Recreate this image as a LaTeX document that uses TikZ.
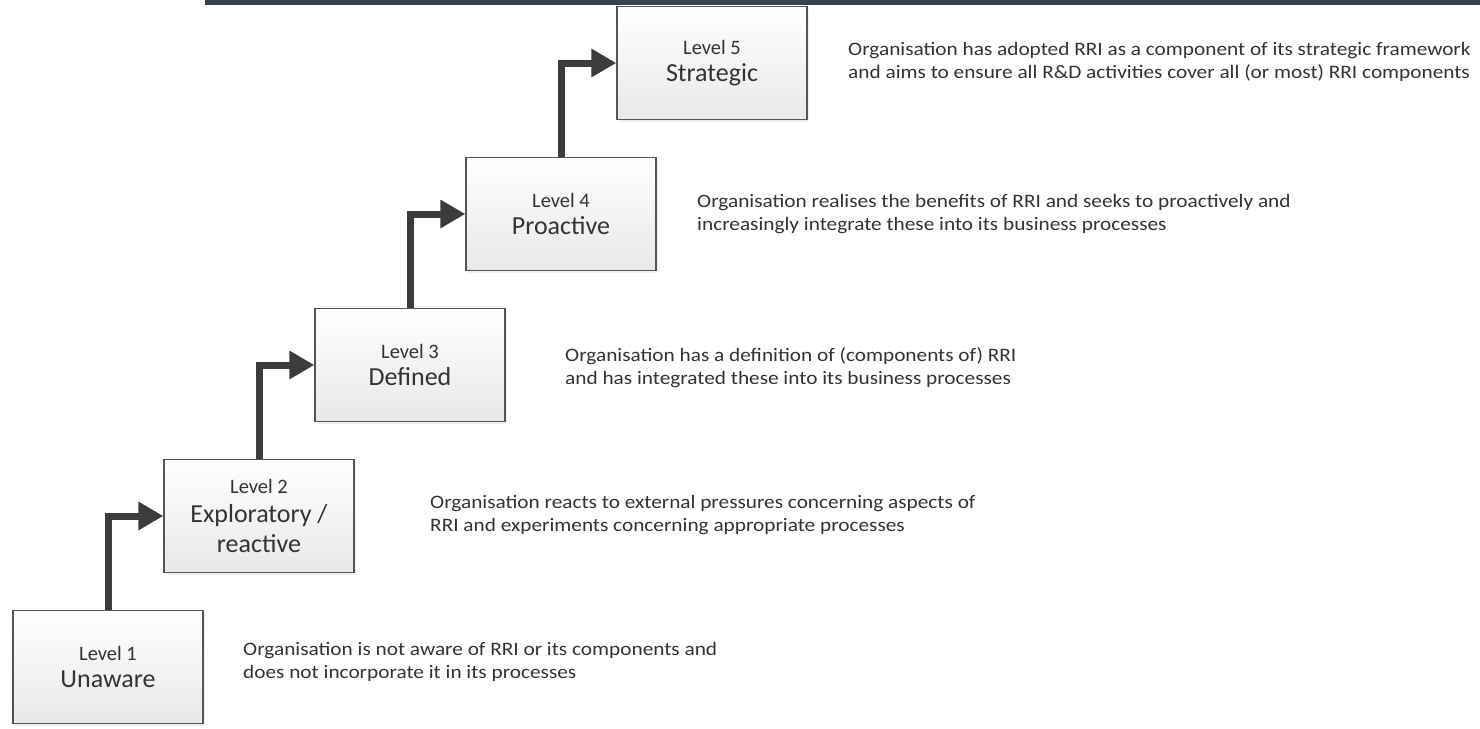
\documentclass[tikz,border=0pt]{standalone}
\usepackage{fontspec}
\setmainfont{Carlito}
\newfontfamily\descfont[FakeStretch=1.12]{Carlito}
\usetikzlibrary{arrows.meta,shadows}
\definecolor{barcol}{HTML}{34444F}
\definecolor{txt}{HTML}{333333}
\definecolor{boxline}{HTML}{555555}
\definecolor{arrcol}{HTML}{3C3C3C}
\tikzset{
  levelbox/.style={draw=boxline, line width=1.3pt, top color=white, bottom color=black!9,
    minimum width=190pt, minimum height=113pt, inner sep=0pt, align=center, text=txt,
    font=\fontsize{26}{30}\selectfont,
    drop shadow={opacity=0.12, shadow xshift=2pt, shadow yshift=-2pt}},
  desc/.style={anchor=west, align=left, text=txt, inner sep=0pt, font=\descfont\fontsize{19}{23}\selectfont},
  conn/.style={draw=arrcol, line width=7pt, -{Triangle[length=25pt,width=27pt]}},
}
\newcommand{\lvl}[1]{{\fontsize{20.5}{24}\selectfont #1}}
\begin{document}
\begin{tikzpicture}[x=1pt,y=-1pt]
\useasboundingbox (0,0) rectangle (1480,728);
\fill[barcol] (205,0) rectangle (1480,5);
\node[levelbox] (b1) at (108,667) {\lvl{Level 1}\\[-3pt]Unaware};
\node[levelbox] (b2) at (259,516) {\lvl{Level 2}\\[-1pt]Exploratory /\\reactive};
\node[levelbox] (b3) at (410,365) {\lvl{Level 3}\\[-3pt]Defined};
\node[levelbox] (b4) at (561,214) {\lvl{Level 4}\\[-3pt]Proactive};
\node[levelbox] (b5) at (712,63) {\lvl{Level 5}\\[-3pt]Strategic};
\draw[conn] (b1.north) |- (b2.west);
\draw[conn] (b2.north) |- (b3.west);
\draw[conn] (b3.north) |- (b4.west);
\draw[conn] (b4.north) |- (b5.west);
\node[desc] (d1) at (243,662) {Organisation is not aware of RRI or its components and\\does not incorporate it in its processes};
\node[desc] (d2) at (430,515) {Organisation reacts to external pressures concerning aspects of\\RRI and experiments concerning appropriate processes};
\node[desc] (d3) at (565,368) {Organisation has a definition of (components of) RRI\\and has integrated these into its business processes};
\node[desc] (d4) at (697,214) {Organisation realises the benefits of RRI and seeks to proactively and\\increasingly integrate these into its business processes};
\node[desc] (d5) at (848,62) {Organisation has adopted RRI as a component of its strategic framework\\and aims to ensure all R\&D activities cover all (or most) RRI components};
\end{tikzpicture}
\end{document}
